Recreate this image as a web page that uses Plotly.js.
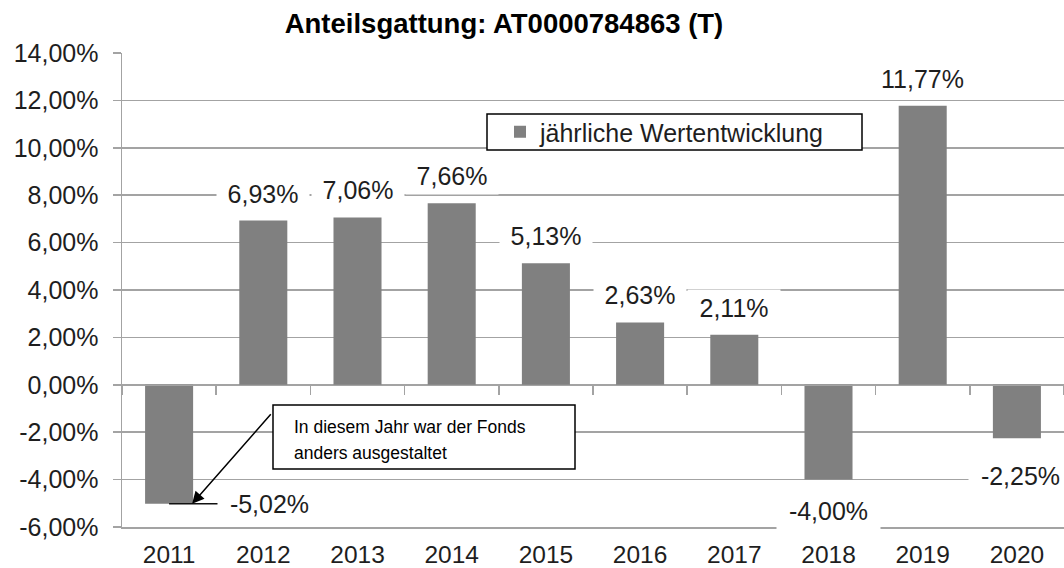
<!DOCTYPE html>
<html>
<head>
<meta charset="utf-8">
<script src="https://cdn.plot.ly/plotly-3.0.1.min.js"></script>
<style>html,body{margin:0;padding:0;background:#fff;}#chart{width:1064px;height:568px;}</style>
</head>
<body>
<div id="chart"></div>
<script>
// ---- data ----
const years = ['2011','2012','2013','2014','2015','2016','2017','2018','2019','2020'];
const values = [-5.02, 6.93, 7.06, 7.66, 5.13, 2.63, 2.11, -4.00, 11.77, -2.25];
const seriesName = 'jährliche Wertentwicklung';
const titleText = 'Anteilsgattung: AT0000784863 (T)';
const yTickVals = [-6, -4, -2, 0, 2, 4, 6, 8, 10, 12, 14];
const yTickText = ['-6,00%','-4,00%','-2,00%','0,00%','2,00%','4,00%','6,00%','8,00%','10,00%','12,00%','14,00%'];
const noteLines = ['In diesem Jahr war der Fonds', 'anders ausgestaltet'];

// ---- layout constants ----
const W = 1064, H = 568;
const M = {l: 122, r: 0, t: 53, b: 41};
const PW = W - M.l - M.r, PH = H - M.t - M.b;
const yMin = -6, yMax = 14;
const FONT = 'Liberation Sans, Arial, sans-serif';
const GRID = '#a3a3a3';
const TXT = '#1e1e1e';
const px = x => (x - M.l) / PW;          // pixel -> paper x
const py = y => (H - M.b - y) / PH;      // pixel -> paper y

// label offsets (pixels) per category
const labelOffsets = {
  '2011': {dx: 100, dy: 0},
  '2018': {dx: 0, dy: -31},
  '2020': {dx: 4, dy: -38}
};

const fmt = v => v.toFixed(2).replace('.', ',') + '%';

const annotations = years.map((yr, i) => {
  const v = values[i];
  const off = labelOffsets[yr] || {dx: 0, dy: v >= 0 ? 27 : -31};
  const txt = fmt(v);
  return {
    x: i, y: v, xref: 'x', yref: 'y',
    text: txt, showarrow: false,
    xshift: off.dx, yshift: off.dy,
    xanchor: 'center', yanchor: 'middle',
    font: {family: FONT, size: 25, color: TXT},
    bgcolor: '#ffffff', borderpad: 4,
    width: txt.length > 5 ? 95 : 84
  };
});

// arrow from the note box to the 2011 bar
annotations.push({
  x: 0, y: values[0], xref: 'x', yref: 'y',
  xshift: 23, text: '', showarrow: true,
  ax: 80, ay: -91, axref: 'pixel', ayref: 'pixel',
  arrowhead: 2, arrowsize: 1.6, arrowwidth: 1.5, arrowcolor: '#000', standoff: 0, startstandoff: 0
});

// note text lines
noteLines.forEach((line, k) => {
  annotations.push({
    xref: 'paper', yref: 'paper', x: px(292), y: py(427 + k * 26),
    xanchor: 'left', yanchor: 'middle', showarrow: false, align: 'left',
    text: line, font: {family: FONT, size: 17.5, color: '#000'}
  });
});

const shapes = [
  // note box
  {type: 'rect', xref: 'paper', yref: 'paper', x0: px(273), x1: px(575), y0: py(405), y1: py(469),
   line: {color: '#000', width: 1.5}, fillcolor: '#ffffff', layer: 'above'},
  // legend box
  {type: 'rect', xref: 'paper', yref: 'paper', x0: px(487), x1: px(862), y0: py(114), y1: py(150),
   line: {color: '#000', width: 1.5}, fillcolor: '#ffffff', layer: 'above'},
  // leader line for 2011 label
  {type: 'line', xref: 'x', yref: 'y', xsizemode: 'pixel', xanchor: 0, x0: 0, x1: 50,
   y0: values[0], y1: values[0], line: {color: '#111', width: 1.5}, layer: 'above'}
];

const traces = [
  {type: 'bar', x: years, y: values, name: seriesName, width: 0.51,
   marker: {color: '#808080', line: {width: 0}}, hoverinfo: 'x+y'},
  {type: 'scatter', mode: 'markers', x: years, y: values, xaxis: 'x2', yaxis: 'y',
   marker: {opacity: 0}, showlegend: false, hoverinfo: 'skip'}
];

const layout = {
  width: W, height: H, margin: M,
  paper_bgcolor: '#fff', plot_bgcolor: '#fff',
  font: {family: FONT, color: TXT},
  title: {text: '<b>' + titleText + '</b>', x: 504 / W, xref: 'container', xanchor: 'center',
          y: 1 - 23 / H, yref: 'container', yanchor: 'middle',
          font: {family: FONT, size: 27.5, color: '#000'}},
  showlegend: true,
  legend: {x: px(500), y: py(132), xanchor: 'left', yanchor: 'middle', bgcolor: 'rgba(0,0,0,0)',
           borderwidth: 0, font: {family: FONT, size: 25, color: TXT}},
  bargap: 0.49,
  xaxis: {type: 'category', categoryarray: years, range: [-0.5, years.length - 0.5],
          showgrid: false, zeroline: false, showline: true, linecolor: GRID, linewidth: 1.5,
          ticks: '', tickfont: {family: FONT, size: 24.5, color: TXT}, ticklabelstandoff: 5,
          fixedrange: true},
  xaxis2: {type: 'category', categoryarray: years, range: [-0.5, years.length - 0.5],
           overlaying: 'x', anchor: 'free', position: (0 - yMin) / (yMax - yMin),
           showgrid: false, zeroline: false, showline: true, linecolor: GRID, linewidth: 1.5,
           ticks: 'outside', tickson: 'boundaries', ticklen: 9, tickwidth: 1.5, tickcolor: GRID,
           showticklabels: false, fixedrange: true},
  yaxis: {range: [yMin, yMax], tickvals: yTickVals, ticktext: yTickText,
          showgrid: true, gridcolor: GRID, gridwidth: 1.5, zeroline: false,
          showline: true, linecolor: GRID, linewidth: 1.5,
          ticks: 'outside', ticklen: 8, tickwidth: 1.5, tickcolor: GRID,
          tickfont: {family: FONT, size: 25, color: TXT}, ticklabelstandoff: 9,
          fixedrange: true},
  annotations: annotations,
  shapes: shapes
};

Plotly.newPlot('chart', traces, layout, {displayModeBar: false, staticPlot: true});
</script>
</body>
</html>
